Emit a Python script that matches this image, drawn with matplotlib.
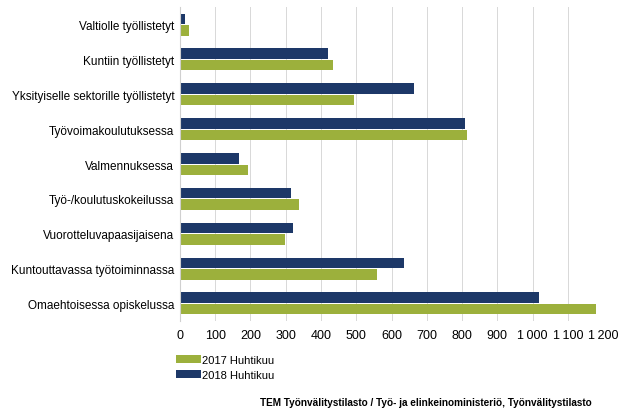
import numpy as np
import matplotlib.pyplot as plt
from matplotlib.ticker import FuncFormatter

plt.rcParams["font.family"] = ["Liberation Sans", "DejaVu Sans"]

categories = [
    "Valtiolle työllistetyt",
    "Kuntiin työllistetyt",
    "Yksityiselle sektorille työllistetyt",
    "Työvoimakoulutuksessa",
    "Valmennuksessa",
    "Työ-/koulutuskokeilussa",
    "Vuorotteluvapaasijaisena",
    "Kuntouttavassa työtoiminnassa",
    "Omaehtoisessa opiskelussa",
]
values_2018 = [15, 419, 664, 808, 167, 315, 322, 636, 1018]
values_2017 = [25, 434, 494, 813, 192, 339, 298, 559, 1180]
label_2017 = "2017 Huhtikuu"
label_2018 = "2018 Huhtikuu"
xticks = list(range(0, 1201, 100))
source = "TEM Työnvälitystilasto / Työ- ja elinkeinoministeriö, Työnvälitystilasto"

navy = "#1d3868"
green = "#9cb03c"

fig = plt.figure(figsize=(6.18, 4.10), dpi=100)
ax = fig.add_axes([0.291, 0.215, 0.685, 0.765])

y = np.arange(len(categories))
h = 0.3
ax.barh(y - 0.165, values_2018, height=h, color=navy, label=label_2018)
ax.barh(y + 0.165, values_2017, height=h, color=green, label=label_2017)

ax.set_xlim(0, 1200)
ax.set_ylim(8.5, -0.5)
ax.set_yticks(y)
ax.set_yticklabels(categories, fontsize=8.5)
ax.set_xticks(xticks)
ax.xaxis.set_major_formatter(FuncFormatter(lambda v, p: f"{int(v):,}".replace(",", "\u2009")))
ax.tick_params(axis="x", labelsize=9, length=0, pad=6)
ax.tick_params(axis="y", length=0, pad=4)
ax.grid(axis="x", color="#d8d8d8", linewidth=0.7)
ax.set_axisbelow(True)
for s in ["top", "right", "bottom"]:
    ax.spines[s].set_visible(False)
ax.spines["left"].set_color("#d0d0d0")

handles, labels = ax.get_legend_handles_labels()
fig.legend(handles[::-1], labels[::-1], loc="upper left",
           bbox_to_anchor=(0.278, 0.143), frameon=False, fontsize=8,
           handlelength=2.2, handleheight=0.7, handletextpad=0.15,
           labelspacing=0.45, borderaxespad=0)

# source line, cut off at the edge in the original; kept inside here
fig.text(0.42, 0.018, source, fontsize=7.2, fontweight="bold", va="center")

fig.savefig("out.png", dpi=100)
